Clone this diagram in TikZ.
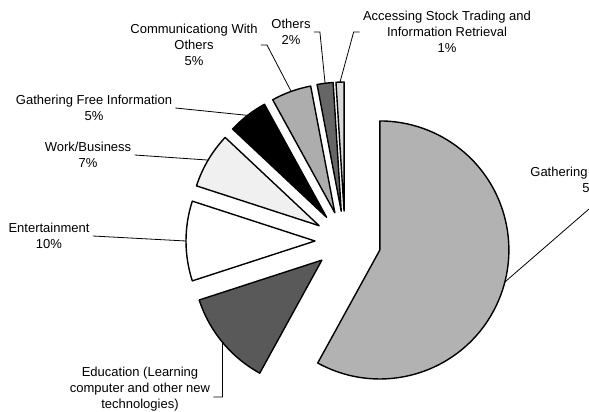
\documentclass[tikz,border=0pt]{standalone}
\usepackage{fontspec}
\setsansfont{Liberation Sans}
\usetikzlibrary{calc}

\begin{document}
\begin{tikzpicture}[x=1pt,y=-1pt,thick,
            wedge/.style={draw=black,line width=1.4pt,line join=round},
            label node/.style={font=\sffamily\fontsize{13}{16}\selectfont,align=center,inner sep=3pt},
            leader/.style={draw=black,line width=0.8pt}]

        \useasboundingbox (0,0) rectangle (589,412);

        % Define slices
        \coordinate (c) at (345,241);
        \foreach \from/\to/\tone/\gap/\name in {
                90/93.6/black!15/30/acc, 93.6/100.8/black!60/30/oth,
                100.8/118.8/black!32/30/comm, 118.8/136.8/black/30/free,
                136.8/162/black!6/30/work, 162/198/white/30/ent,
                198/241.2/black!65/30/edu, -118.8/90/black!30/36/gath} {
            \coordinate (\name) at ($(c)+({-(\from+\to)/2}:\gap)$);
            \coordinate (\name-mid) at ($(\name)+({-(\from+\to)/2}:129)$);
            \draw[wedge,fill=\tone] (\name) -- ++({-1*(\from)}:129)
                arc[start angle={-1*(\from)},end angle={-1*(\to)},radius=129] -- cycle;
        }

        % Define labels
        \node[label node] (comm lbl) at (194,45) {Communicationg With\\Others\\5\%};
        \node[label node] (oth lbl) at (291,32) {Others\\2\%};
        \node[label node] (acc lbl) at (447,32) {Accessing Stock Trading and\\Information Retrieval\\1\%};
        \node[label node] (free lbl) at (94,108) {Gathering Free Information\\5\%};
        \node[label node] (work lbl) at (88,155) {Work/Business\\7\%};
        \node[label node] (ent lbl) at (49,236) {Entertainment\\10\%};
        \node[label node] (edu lbl) at (140,389) {Education (Learning\\computer and other new\\technologies)};
        \node[label node,anchor=west,align=left] (gath lbl) at (527,180) {Gathering\\\hspace*{52pt}5};
        \coordinate (gath tip) at (589,209);

        % Draw leaders
        \path[leader]
            (comm lbl.east) -- ++(6,0) -- (comm-mid)
            (oth lbl.east) -- ++(6,0) -- (oth-mid)
            (acc lbl.west) -- ++(-6,0) -- (acc-mid)
            (free lbl.east) -- (free-mid)
            (work lbl.east) -- (work-mid)
            (ent lbl.east) -- (ent-mid)
            ($(edu lbl.east)+(0,8)$) -| (edu-mid)
            (gath-mid) -- (gath tip);

        \end{tikzpicture}
\end{document}
